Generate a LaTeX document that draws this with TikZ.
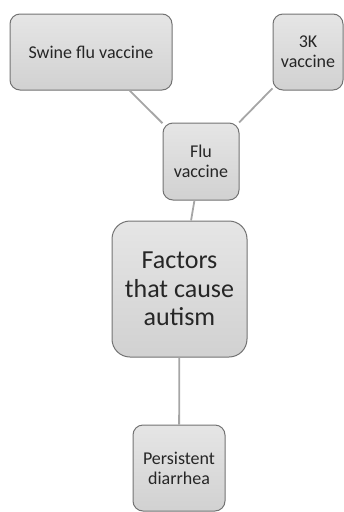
\documentclass[tikz,border=0pt]{standalone}
\usepackage{fontspec}
\setmainfont{Carlito}
\begin{document}
\begin{tikzpicture}[x=1pt,y=-1pt,
  box/.style={draw=black!55, line width=1pt, rounded corners=10pt, top color=black!10, bottom color=black!18, align=center, text=black!85, inner sep=0pt, font=\fontsize{18}{20}\selectfont},
  bigbox/.style={box, rounded corners=18pt, font=\fontsize{26}{28.5}\selectfont},
  link/.style={draw=black!35, line width=1.8pt}]
\useasboundingbox (0,0) rectangle (344,512);
\node[box, minimum width=162pt, minimum height=76pt] (swine) at (91,52) {Swine flu vaccine};
\node[box, minimum width=70pt, minimum height=76pt] (k3) at (308,52) {3K\\vaccine};
\node[box, minimum width=76pt, minimum height=77pt] (flu) at (201,161.5) {Flu\\vaccine};
\node[bigbox, minimum width=135pt, minimum height=136pt] (fac) at (179.5,289) {Factors\\that cause\\autism};
\node[box, minimum width=92pt, minimum height=86pt] (per) at (179,468) {Persistent\\diarrhea};
\draw[link] (swine) -- (flu);
\draw[link] (k3) -- (flu);
\draw[link] (flu) -- (fac);
\draw[link] (fac) -- (per);
\end{tikzpicture}
\end{document}
